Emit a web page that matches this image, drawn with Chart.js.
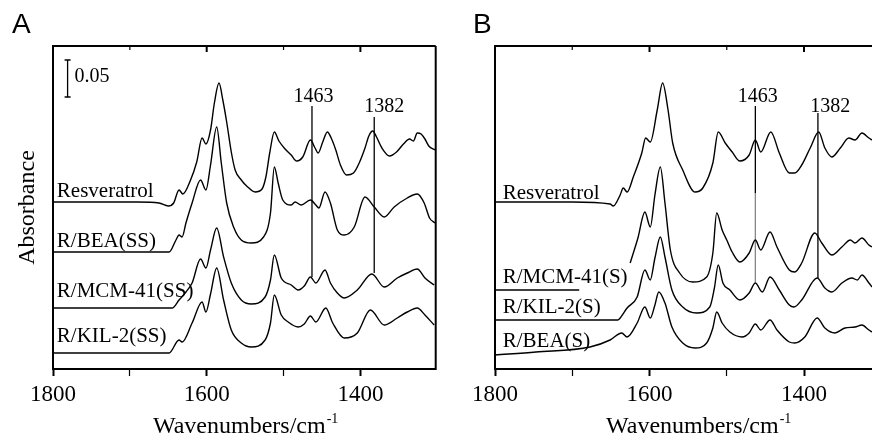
<!DOCTYPE html>
<html lang="en">
<head>
<meta charset="UTF-8">
<title>IR spectra A / B</title>
<script src="https://cdn.jsdelivr.net/npm/chart.js@4.4.0/dist/chart.umd.min.js"></script>
<style>
  body { margin: 0; background: #fff; }
  canvas { position: absolute; top: 0; }
</style>
</head>
<body>
<canvas id="chartA" width="441" height="440" style="left:0"></canvas>
<canvas id="chartB" width="431" height="440" style="left:441px"></canvas>
<script>
// spectra: [wavenumber / cm-1, stacked absorbance (a.u., 36 = 0.05)]
const resA = [[1800,166],[1740,166],[1690,166],[1662,165],[1650,162],[1643,165],[1636,178],[1631,174],[1621,188],[1613,206],[1606,230],[1601,224],[1595,238],[1590,265],[1584,285],[1579,268],[1574,246],[1568,216],[1563,198],[1555,188],[1548,182],[1537,176],[1528,179],[1523,191],[1518,215],[1512,236],[1506,227],[1498,219],[1490,213],[1483,207],[1475,211],[1465,228],[1459,220],[1455,215],[1449,226],[1443,236],[1438,230],[1432,218],[1426,203],[1418,193],[1409,195],[1401,206],[1394,220],[1389,232],[1384,237],[1379,231],[1372,220],[1362,212],[1353,216],[1344,224],[1336,229],[1331,227],[1326,235],[1321,234],[1316,229],[1311,222],[1303,218]];
const beaSS = [[1800,116],[1740,116],[1690,116],[1649,116],[1640,128],[1636,133],[1632,131],[1627,145],[1619,165],[1608,188],[1601,178],[1595,203],[1587,241],[1581,205],[1574,165],[1565,141],[1555,128],[1542,125],[1526,131],[1517,155],[1512,201],[1507,185],[1501,168],[1490,163],[1485,166],[1477,163],[1465,168],[1458,163],[1454,160],[1446,176],[1439,165],[1430,138],[1421,133],[1408,141],[1394,171],[1382,161],[1369,151],[1356,161],[1339,170],[1326,174],[1317,165],[1310,150],[1303,145]];
const mcmSS = [[1800,60],[1740,60],[1690,60],[1645,60],[1636,68],[1627,76],[1619,85],[1608,109],[1601,100],[1595,118],[1587,140],[1578,111],[1568,85],[1555,68],[1542,64],[1524,71],[1517,88],[1512,113],[1503,90],[1490,83],[1481,78],[1473,82],[1465,91],[1458,85],[1446,98],[1439,85],[1430,75],[1421,70],[1404,78],[1385,94],[1369,81],[1352,90],[1339,95],[1326,99],[1316,90],[1304,83]];
const kilSS = [[1800,15],[1740,15],[1690,15],[1649,15],[1636,28],[1632,26],[1619,45],[1606,66],[1601,56],[1595,74],[1587,100],[1578,68],[1568,38],[1555,25],[1542,21],[1524,28],[1517,45],[1512,73],[1503,53],[1494,46],[1481,41],[1473,44],[1465,52],[1458,46],[1445,60],[1436,45],[1421,30],[1404,35],[1387,58],[1369,43],[1352,50],[1339,56],[1326,60],[1316,53],[1304,43]];

const resB = [[1800,166],[1700,166],[1651,164],[1647,162],[1638,173],[1634,180],[1629,176],[1621,191],[1610,215],[1605,230],[1599,226],[1590,258],[1583,285],[1576,258],[1570,225],[1557,198],[1541,176],[1531,180],[1518,205],[1511,236],[1502,225],[1493,216],[1483,207],[1471,213],[1463,228],[1456,216],[1443,236],[1432,215],[1419,195],[1412,195],[1403,203],[1392,220],[1381,236],[1373,220],[1364,211],[1353,220],[1342,230],[1334,228],[1325,235],[1316,230],[1312,228]];
const mcmS = [[1800,78],[1750,78],[1691,78],[1680,null],[1625,105],[1615,130],[1606,156],[1599,141],[1593,173],[1586,201],[1580,165],[1573,118],[1561,95],[1544,86],[1526,91],[1518,115],[1513,155],[1506,138],[1500,128],[1493,116],[1483,106],[1471,115],[1463,128],[1456,118],[1444,136],[1435,121],[1419,98],[1412,96],[1403,105],[1386,135],[1377,125],[1364,113],[1351,121],[1340,128],[1334,125],[1325,130],[1316,123],[1312,121]];
const kilS = [[1800,48],[1740,48],[1690,48],[1641,48],[1638,50],[1629,60],[1616,71],[1606,98],[1599,88],[1593,110],[1586,131],[1580,111],[1571,78],[1557,61],[1539,55],[1522,61],[1516,80],[1511,103],[1505,85],[1496,78],[1483,68],[1471,75],[1463,85],[1454,76],[1444,91],[1432,78],[1419,63],[1413,61],[1403,68],[1383,90],[1373,80],[1364,76],[1351,85],[1338,90],[1331,88],[1325,93],[1316,85],[1312,81]];
const beaS = [[1800,13],[1747,16],[1677,21],[1651,28],[1636,35],[1629,31],[1616,45],[1606,61],[1599,50],[1593,63],[1588,76],[1580,65],[1571,41],[1557,25],[1541,20],[1526,25],[1518,40],[1513,56],[1506,45],[1496,36],[1480,31],[1471,35],[1463,44],[1456,38],[1444,48],[1435,38],[1419,26],[1412,25],[1399,31],[1383,50],[1373,40],[1360,35],[1347,40],[1334,41],[1325,43],[1316,38],[1312,36]];

// marker lines at 1463 and 1382, scale bar 0.05
const markA1463 = [[1463,262],[1463,91]];
const markA1382 = [[1382,251],[1382,95]];
const markB1463 = [[1463,262],[1463,175]];
const markB1463lo = [[1463,175],[1463,86]];
const markB1382 = [[1382,255],[1382,90]];
const scaleBar = [[1781,308],[1781,271]];

const tickValues = [1800, 1700, 1600, 1500, 1400];
const xTicks = [1800, 1600, 1400];

const serif = '"Liberation Serif", "Times New Roman", serif';
const pts = arr => arr.map(p => ({x: p[0], y: p[1]}));
const isMajor = v => xTicks.includes(Math.round(v));

function spectrum(arr) {
  return {data: pts(arr), borderColor: '#000', borderWidth: 1.4, pointRadius: 0,
          cubicInterpolationMode: 'monotone', fill: false};
}
function marker(arr, color) {
  return {data: pts(arr), borderColor: color || '#000', borderWidth: 1.3, pointRadius: 0, tension: 0};
}

const decor = {
  id: 'decor',
  afterDraw(chart, args, o) {
    const {ctx, chartArea: a, scales: {x, y}} = chart;
    ctx.save();
    ctx.strokeStyle = '#000';
    ctx.lineWidth = 2;
    ctx.beginPath();
    const r = o.rightBorder ? a.right : chart.width;
    ctx.moveTo(r, a.top); ctx.lineTo(a.left, a.top); ctx.lineTo(a.left, a.bottom); ctx.lineTo(r, a.bottom);
    if (o.rightBorder) { ctx.lineTo(a.right, a.top); }
    ctx.stroke();
    // inward ticks on the top edge
    x.ticks.forEach(t => {
      const px = x.getPixelForValue(t.value);
      ctx.lineWidth = isMajor(t.value) ? 2 : 1.2;
      ctx.beginPath(); ctx.moveTo(px, a.top); ctx.lineTo(px, a.top + (isMajor(t.value) ? 6 : 4)); ctx.stroke();
    });
    ctx.fillStyle = '#000';
    ctx.textBaseline = 'alphabetic';
    (o.texts || []).forEach(t => {
      ctx.font = t.font;
      ctx.textAlign = t.align || 'left';
      ctx.fillText(t.text, x.getPixelForValue(t.at[0]), y.getPixelForValue(t.at[1]));
    });
    // x title with superscript
    ctx.font = '24px ' + serif;
    const main = 'Wavenumbers/cm', w = ctx.measureText(main).width;
    ctx.font = '14px ' + serif;
    const ws = ctx.measureText('-1').width;
    const x0 = x.getPixelForValue(o.xTitleAt) - (w + ws) / 2;
    ctx.textAlign = 'left';
    ctx.font = '24px ' + serif;
    ctx.fillText(main, x0, 433);
    ctx.font = '14px ' + serif;
    ctx.fillText('-1', x0 + w + 1, 423);
    // panel letter
    ctx.font = '28px "Liberation Sans", Arial, sans-serif';
    ctx.fillText(o.letter, a.left - o.letterDx, 33);
    if (o.yTitle) {
      ctx.translate(a.left - 25, (a.top + a.bottom) / 2);
      ctx.rotate(-Math.PI / 2);
      ctx.font = '24px ' + serif;
      ctx.textAlign = 'center';
      ctx.textBaseline = 'middle';
      ctx.fillText(o.yTitle, 0, 0);
    }
    ctx.restore();
  }
};

function makeChart(id, datasets, xmin, padding, decorOpts) {
  return new Chart(document.getElementById(id), {
    type: 'line',
    data: {datasets: datasets},
    options: {
      responsive: false, animation: false, devicePixelRatio: 1,
      layout: {padding: padding},
      plugins: {legend: {display: false}, tooltip: {enabled: false}, decor: decorOpts},
      events: [],
      scales: {
        x: {
          type: 'linear', reverse: true, min: xmin, max: 1800,
          afterBuildTicks: s => { s.ticks = tickValues.map(v => ({value: v})); },
          afterFit: s => { s.height = 71; },
          border: {display: false},
          grid: {drawOnChartArea: false, drawTicks: true, tickLength: 7, color: '#000',
                 tickWidth: c => (c.tick && isMajor(c.tick.value)) ? 2 : 1.2},
          ticks: {autoSkip: false, maxRotation: 0, padding: 5,
                  color: '#000', font: {family: serif, size: 23},
                  callback: v => isMajor(v) ? String(Math.round(v)) : ''}
        },
        y: {type: 'linear', min: -1, max: 322, display: false}
      }
    },
    plugins: [decor]
  });
}

const lbl = 21, pk = 20;
makeChart('chartA',
  [spectrum(resA), spectrum(beaSS), spectrum(mcmSS), spectrum(kilSS),
   marker(markA1463), marker(markA1382),
   Object.assign(marker(scaleBar), {pointStyle: 'line', pointRadius: 3, pointBorderWidth: 1.3})],
  1302, {left: 53, right: 2, top: 46, bottom: 0},
  {rightBorder: true, letter: 'A', letterDx: 41, yTitle: 'Absorbance', xTitleAt: 1550,
   texts: [
     {text: 'Resveratrol', at: [1795, 171], font: lbl + 'px ' + serif},
     {text: 'R/BEA(SS)', at: [1795, 121], font: lbl + 'px ' + serif},
     {text: 'R/MCM-41(SS)', at: [1795, 71], font: lbl + 'px ' + serif},
     {text: 'R/KIL-2(SS)', at: [1795, 26], font: lbl + 'px ' + serif},
     {text: '1463', at: [1461, 266], font: pk + 'px ' + serif, align: 'center'},
     {text: '1382', at: [1369, 256], font: pk + 'px ' + serif, align: 'center'},
     {text: '0.05', at: [1772, 286], font: '20px ' + serif}
   ]});

makeChart('chartB',
  [spectrum(resB), spectrum(mcmS), spectrum(kilS), spectrum(beaS),
   marker(markB1463), marker(markB1463lo, '#888'), marker(markB1382)],
  1312, {left: 54, right: 0, top: 46, bottom: 0},
  {rightBorder: false, letter: 'B', letterDx: 22, xTitleAt: 1537,
   texts: [
     {text: 'Resveratrol', at: [1790, 169], font: lbl + 'px ' + serif},
     {text: 'R/MCM-41(S)', at: [1790, 85], font: lbl + 'px ' + serif},
     {text: 'R/KIL-2(S)', at: [1790, 55], font: lbl + 'px ' + serif},
     {text: 'R/BEA(S)', at: [1790, 21], font: lbl + 'px ' + serif},
     {text: '1463', at: [1460, 266], font: pk + 'px ' + serif, align: 'center'},
     {text: '1382', at: [1366, 256], font: pk + 'px ' + serif, align: 'center'}
   ]});
</script>
</body>
</html>
